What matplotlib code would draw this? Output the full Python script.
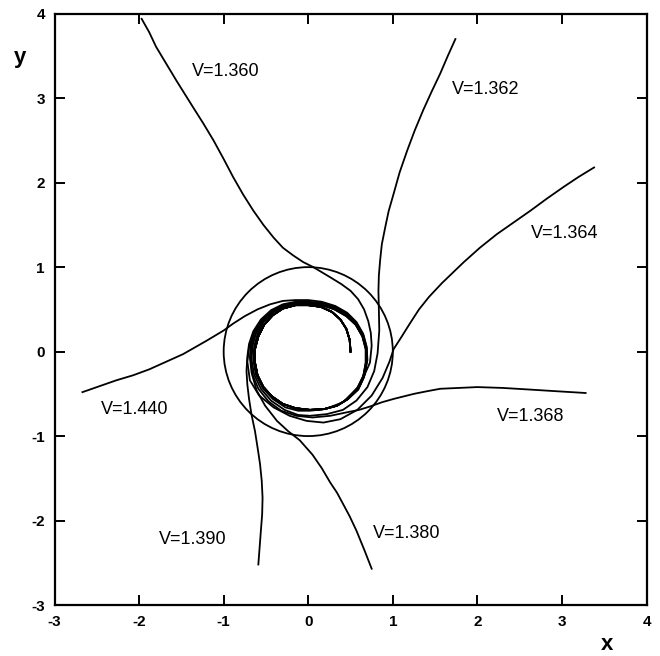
import matplotlib
matplotlib.use("Agg")
import matplotlib.pyplot as plt
from matplotlib.patches import Circle

plt.rcParams["font.family"] = ["Liberation Sans", "DejaVu Sans"]
plt.rcParams["axes.unicode_minus"] = False

# ---------- data ----------
# common first turn, starting at (0.5, 0) and winding counter-clockwise
start_x = [0.50, 0.49, 0.45, 0.38, 0.28, 0.15, 0.00, -0.15, -0.30, -0.42, -0.52, -0.59,
           -0.63, -0.63, -0.60, -0.53, -0.43, -0.30, -0.15, 0.02, 0.19, 0.34, 0.47]
start_y = [0.00, 0.14, 0.27, 0.38, 0.47, 0.53, 0.55, 0.55, 0.51, 0.43, 0.32, 0.18,
           0.03, -0.13, -0.28, -0.42, -0.53, -0.62, -0.67, -0.69, -0.68, -0.64, -0.56]

# second turn and escape, one per velocity
v1440_x = [0.58, 0.66, 0.70, 0.69, 0.65, 0.57, 0.46, 0.32, 0.16, 0.00, -0.15, -0.30, -0.45,
           -0.60, -0.75, -0.89, -1.00, -1.10, -1.20, -1.34, -1.48, -1.68, -1.88, -2.07,
           -2.27, -2.47, -2.67]
v1440_y = [-0.43, -0.27, -0.10, 0.06, 0.21, 0.35, 0.46, 0.54, 0.59, 0.61, 0.61, 0.60, 0.56,
           0.50, 0.42, 0.33, 0.25, 0.19, 0.13, 0.05, -0.03, -0.12, -0.21, -0.28,
           -0.34, -0.41, -0.48]

v1390_x = [0.58, 0.66, 0.69, 0.69, 0.65, 0.57, 0.46, 0.32, 0.16, 0.00, -0.15, -0.30, -0.44,
           -0.56, -0.65, -0.70, -0.72, -0.73, -0.72, -0.70, -0.67, -0.63, -0.60, -0.57,
           -0.55, -0.54, -0.545, -0.56, -0.575, -0.59]
v1390_y = [-0.44, -0.28, -0.11, 0.05, 0.20, 0.34, 0.45, 0.53, 0.58, 0.59, 0.59, 0.56, 0.49,
           0.38, 0.24, 0.09, -0.06, -0.23, -0.39, -0.56, -0.75, -0.94, -1.13, -1.33,
           -1.53, -1.73, -1.93, -2.12, -2.32, -2.52]

v1380_x = [0.58, 0.65, 0.69, 0.68, 0.64, 0.56, 0.45, 0.31, 0.16, 0.00, -0.15, -0.30, -0.43,
           -0.55, -0.63, -0.68, -0.69, -0.67, -0.61, -0.51, -0.37, -0.24, -0.10, 0.05, 0.16,
           0.26, 0.34, 0.41, 0.49, 0.57, 0.66, 0.75]
v1380_y = [-0.44, -0.29, -0.12, 0.04, 0.19, 0.33, 0.44, 0.52, 0.57, 0.58, 0.58, 0.55, 0.48,
           0.37, 0.23, 0.08, -0.07, -0.25, -0.46, -0.64, -0.82, -0.94, -1.05, -1.22, -1.38,
           -1.55, -1.67, -1.80, -1.95, -2.12, -2.34, -2.57]

v1368_x = [0.58, 0.65, 0.68, 0.68, 0.64, 0.56, 0.45, 0.31, 0.16, 0.00, -0.15, -0.30, -0.43,
           -0.54, -0.62, -0.67, -0.68, -0.66, -0.59, -0.47, -0.32, -0.14, 0.05, 0.26, 0.45,
           0.60, 0.73, 0.87, 1.01, 1.13, 1.25, 1.40, 1.56, 1.78, 2.00, 2.30, 2.63, 2.95, 3.28]
v1368_y = [-0.45, -0.30, -0.13, 0.03, 0.18, 0.32, 0.43, 0.51, 0.56, 0.575, 0.57, 0.54, 0.47,
           0.36, 0.22, 0.07, -0.09, -0.27, -0.44, -0.59, -0.70, -0.76, -0.78, -0.76, -0.72,
           -0.69, -0.65, -0.60, -0.56, -0.53, -0.50, -0.47, -0.44, -0.43, -0.42, -0.43, -0.45,
           -0.47, -0.49]

v1364_x = [0.58, 0.65, 0.68, 0.68, 0.64, 0.56, 0.45, 0.31, 0.16, 0.00, -0.15, -0.30, -0.44,
           -0.56, -0.65, -0.70, -0.72, -0.69, -0.58, -0.41, -0.22, -0.02, 0.18, 0.38, 0.58,
           0.75, 0.88, 0.96, 1.01, 1.10, 1.20, 1.31, 1.43, 1.58, 1.84, 2.03, 2.23, 2.43, 2.63,
           2.82, 3.02, 3.20, 3.38]
v1364_y = [-0.45, -0.30, -0.13, 0.03, 0.18, 0.32, 0.42, 0.50, 0.55, 0.565, 0.56, 0.53, 0.46,
           0.35, 0.21, 0.05, -0.12, -0.34, -0.52, -0.66, -0.76, -0.82, -0.84, -0.80, -0.69,
           -0.52, -0.31, -0.12, 0.03, 0.17, 0.33, 0.50, 0.65, 0.81, 1.06, 1.23, 1.39, 1.53, 1.67,
           1.81, 1.95, 2.07, 2.18]

v1362_x = [0.59, 0.66, 0.69, 0.69, 0.65, 0.57, 0.45, 0.31, 0.16, 0.00, -0.15, -0.30, -0.43,
           -0.54, -0.62, -0.66, -0.67, -0.64, -0.56, -0.44, -0.28, -0.12, 0.02, 0.22, 0.41,
           0.57, 0.70, 0.78, 0.82, 0.84, 0.835, 0.83, 0.835, 0.85, 0.87, 0.91, 0.95, 1.01,
           1.08, 1.17, 1.26, 1.36, 1.46, 1.56, 1.65, 1.74]
v1362_y = [-0.45, -0.30, -0.13, 0.03, 0.18, 0.32, 0.43, 0.51, 0.555, 0.57, 0.565, 0.535, 0.465,
           0.355, 0.21, 0.06, -0.10, -0.27, -0.44, -0.58, -0.69, -0.75, -0.76, -0.74, -0.69,
           -0.58, -0.42, -0.23, -0.02, 0.25, 0.50, 0.72, 0.90, 1.08, 1.27, 1.47, 1.66, 1.87,
           2.12, 2.38, 2.62, 2.86, 3.08, 3.29, 3.50, 3.70]

v1360_x = [0.59, 0.66, 0.69, 0.69, 0.65, 0.57, 0.45, 0.31, 0.16, 0.00, -0.15, -0.30, -0.42,
           -0.53, -0.60, -0.64, -0.65, -0.62, -0.54, -0.42, -0.27, -0.12, 0.02, 0.20, 0.41,
           0.61, 0.73, 0.75, 0.74, 0.71, 0.66, 0.59, 0.50, 0.39, 0.26, 0.16, 0.06, -0.06,
           -0.18, -0.30, -0.41, -0.53, -0.65, -0.77, -0.89, -1.00, -1.12, -1.24, -1.36,
           -1.46, -1.56, -1.68, -1.80, -1.88, -1.97]
v1360_y = [-0.45, -0.30, -0.14, 0.02, 0.17, 0.31, 0.42, 0.50, 0.55, 0.56, 0.56, 0.53, 0.46,
           0.35, 0.21, 0.06, -0.10, -0.27, -0.43, -0.56, -0.66, -0.70, -0.70, -0.68, -0.60,
           -0.40, -0.13, 0.07, 0.22, 0.36, 0.50, 0.62, 0.72, 0.80, 0.88, 0.94, 1.00, 1.06,
           1.14, 1.23, 1.35, 1.50, 1.67, 1.86, 2.07, 2.28, 2.50, 2.70, 2.89,
           3.05, 3.21, 3.41, 3.61, 3.78, 3.94]

curves = [
    ("V=1.360", v1360_x, v1360_y, (-1.37, 3.31)),
    ("V=1.362", v1362_x, v1362_y, (1.70, 3.10)),
    ("V=1.364", v1364_x, v1364_y, (2.63, 1.40)),
    ("V=1.368", v1368_x, v1368_y, (2.23, -0.77)),
    ("V=1.380", v1380_x, v1380_y, (0.77, -2.15)),
    ("V=1.390", v1390_x, v1390_y, (-1.76, -2.23)),
    ("V=1.440", v1440_x, v1440_y, (-2.45, -0.69)),
]

circle_radius = 1.0
x_ticks = [-3, -2, -1, 0, 1, 2, 3, 4]
y_ticks = [-3, -2, -1, 0, 1, 2, 3, 4]

# ---------- plot ----------
fig = plt.figure(figsize=(6.6, 6.56), dpi=100)
ax = fig.add_axes([0.0826, 0.0777, 0.897, 0.9014])

for label, xs, ys, (lx, ly) in curves:
    ax.plot(start_x + xs, start_y + ys, color="black", lw=1.3, solid_joinstyle="round")
    ax.text(lx, ly, label, fontsize=13, ha="left", va="center")

ax.add_patch(Circle((0, 0), circle_radius, fill=False, edgecolor="black", lw=1.3))

ax.set_xlim(-3, 4)
ax.set_ylim(-3, 4)
ax.set_xticks(x_ticks)
ax.set_yticks(y_ticks)
ax.tick_params(direction="in", length=7, width=1.4, top=True, right=True,
               labeltop=False, labelright=False, labelsize=11, pad=7)
for t in ax.get_xticklabels() + ax.get_yticklabels():
    t.set_fontweight("bold")
for s in ax.spines.values():
    s.set_linewidth(1.6)

fig.text(607 / 660, 1 - 645 / 656, "x", fontsize=16, fontweight="bold", ha="center", va="center")
fig.text(20 / 660, 1 - 57 / 656, "y", fontsize=16, fontweight="bold", ha="center", va="center")

fig.savefig("out.png", dpi=100)
